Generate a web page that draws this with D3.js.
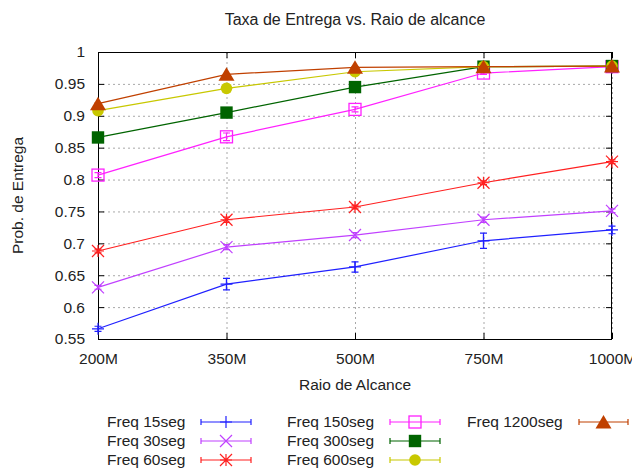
<!DOCTYPE html>
<html>
<head>
<meta charset="utf-8">
<script src="https://cdn.jsdelivr.net/npm/d3@7"></script>
<style>
  body { margin: 0; background: #fff; }
  text { font-family: "Liberation Sans", Arial, sans-serif; fill: #222; }
</style>
</head>
<body>
<svg id="chart"></svg>
<script>
// Data
const categories = ["200M", "350M", "500M", "750M", "1000M"];
const yTicks = [0.55, 0.6, 0.65, 0.7, 0.75, 0.8, 0.85, 0.9, 0.95, 1];

const freq15 = [0.566, 0.636, 0.663, 0.704, 0.721];
const freq30 = [0.631, 0.694, 0.713, 0.737, 0.751];
const freq60 = [0.688, 0.737, 0.757, 0.795, 0.828];
const freq150 = [0.807, 0.867, 0.910, 0.967, 0.977];
const freq300 = [0.866, 0.905, 0.945, 0.977, 0.978];
const freq600 = [0.908, 0.943, 0.969, 0.977, 0.978];
const freq1200 = [0.919, 0.965, 0.976, 0.977, 0.978];

const err15 = [0.004, 0.009, 0.008, 0.012, 0.006];
const err30 = [0.003, 0.004, 0.004, 0.004, 0.003];
const err60 = [0.003, 0.004, 0.003, 0.003, 0.003];
const err150 = [0.004, 0.006, 0.004, 0.002, 0.001];
const err300 = [0.002, 0.002, 0.002, 0.001, 0.001];
const err600 = [0.002, 0.002, 0.001, 0.001, 0.001];
const err1200 = [0.001, 0.001, 0.001, 0.001, 0.001];

const seriesNames = ["Freq 15seg", "Freq 30seg", "Freq 60seg", "Freq 150seg",
                     "Freq 300seg", "Freq 600seg", "Freq 1200seg"];

const series = [
  { name: seriesNames[0], values: freq15, errs: err15, color: "#2020ff", marker: "plus" },
  { name: seriesNames[1], values: freq30, errs: err30, color: "#c040ff", marker: "cross" },
  { name: seriesNames[2], values: freq60, errs: err60, color: "#ff2020", marker: "star" },
  { name: seriesNames[3], values: freq150, errs: err150, color: "#ff20ff", marker: "openSquare" },
  { name: seriesNames[4], values: freq300, errs: err300, color: "#006400", marker: "square" },
  { name: seriesNames[5], values: freq600, errs: err600, color: "#c8c800", marker: "circle" },
  { name: seriesNames[6], values: freq1200, errs: err1200, color: "#c04000", marker: "triangle" }
];

const width = 632, height = 469;
const plot = { left: 98, right: 612, top: 52, bottom: 339 };

const svg = d3.select("#chart")
  .attr("width", width)
  .attr("height", height)
  .attr("viewBox", `0 0 ${width} ${height}`);

const x = d3.scalePoint().domain(categories).range([plot.left, plot.right]);
const y = d3.scaleLinear().domain([0.55, 1]).range([plot.bottom, plot.top]);

const fmt = (d) => String(+d.toFixed(2));

// Grid (dotted)
const grid = svg.append("g").attr("class", "grid");
grid.append("g")
  .attr("transform", `translate(${plot.left},0)`)
  .call(d3.axisLeft(y).tickValues(yTicks).tickSize(-(plot.right - plot.left)).tickFormat(""))
  .call((g) => g.select(".domain").remove());
grid.append("g")
  .attr("transform", `translate(0,${plot.bottom})`)
  .call(d3.axisBottom(x).tickSize(-(plot.bottom - plot.top)).tickFormat(""))
  .call((g) => g.select(".domain").remove());
grid.selectAll("line")
  .attr("stroke", "#a8a8a8")
  .attr("stroke-width", 1)
  .attr("stroke-dasharray", "2,3");

// Axes with inward ticks, mirrored on top and right
const tick = 6;
const axisL = svg.append("g")
  .attr("transform", `translate(${plot.left},0)`)
  .call(d3.axisLeft(y).tickValues(yTicks).tickSize(-tick).tickPadding(13).tickFormat(fmt));
const axisR = svg.append("g")
  .attr("transform", `translate(${plot.right},0)`)
  .call(d3.axisRight(y).tickValues(yTicks).tickSize(-tick).tickFormat(""));
const axisB = svg.append("g")
  .attr("transform", `translate(0,${plot.bottom})`)
  .call(d3.axisBottom(x).tickSize(-tick).tickPadding(14));
const axisT = svg.append("g")
  .attr("transform", `translate(0,${plot.top})`)
  .call(d3.axisTop(x).tickSize(-tick).tickFormat(""));

[axisL, axisR, axisB, axisT].forEach((a) => {
  a.select(".domain").remove();
  a.selectAll("line").attr("stroke", "#000");
  a.selectAll("text")
    .style("font-family", "\"Liberation Sans\", Arial, sans-serif")
    .style("font-size", "15.5px")
    .attr("fill", "#222");
});

// Border
svg.append("rect")
  .attr("x", plot.left + 0.5)
  .attr("y", plot.top + 0.5)
  .attr("width", plot.right - plot.left - 1)
  .attr("height", plot.bottom - plot.top)
  .attr("fill", "none")
  .attr("stroke", "#000")
  .attr("stroke-width", 1);

// Marker drawing
function drawMarker(g, type, cx, cy, color) {
  const p = d3.path();
  switch (type) {
    case "plus":
      p.moveTo(cx - 6, cy); p.lineTo(cx + 6, cy);
      p.moveTo(cx, cy - 6); p.lineTo(cx, cy + 6);
      g.append("path").attr("d", p.toString()).attr("stroke", color).attr("stroke-width", 1.2).attr("fill", "none");
      break;
    case "cross":
      p.moveTo(cx - 6, cy - 6); p.lineTo(cx + 6, cy + 6);
      p.moveTo(cx - 6, cy + 6); p.lineTo(cx + 6, cy - 6);
      g.append("path").attr("d", p.toString()).attr("stroke", color).attr("stroke-width", 1.2).attr("fill", "none");
      break;
    case "star":
      p.moveTo(cx - 6, cy); p.lineTo(cx + 6, cy);
      p.moveTo(cx, cy - 6); p.lineTo(cx, cy + 6);
      p.moveTo(cx - 6, cy - 6); p.lineTo(cx + 6, cy + 6);
      p.moveTo(cx - 6, cy + 6); p.lineTo(cx + 6, cy - 6);
      g.append("path").attr("d", p.toString()).attr("stroke", color).attr("stroke-width", 1.2).attr("fill", "none");
      break;
    case "openSquare":
      g.append("rect").attr("x", cx - 6).attr("y", cy - 6).attr("width", 12).attr("height", 12)
        .attr("fill", "none").attr("stroke", color).attr("stroke-width", 1.3);
      break;
    case "square":
      g.append("rect").attr("x", cx - 6.2).attr("y", cy - 6.2).attr("width", 12.4).attr("height", 12.4)
        .attr("fill", color);
      break;
    case "circle":
      g.append("circle").attr("cx", cx).attr("cy", cy).attr("r", 5.8).attr("fill", color);
      break;
    case "triangle":
      p.moveTo(cx, cy - 7); p.lineTo(cx + 8, cy + 6.5); p.lineTo(cx - 8, cy + 6.5); p.closePath();
      g.append("path").attr("d", p.toString()).attr("fill", color);
      break;
  }
}

// Series: line, error bars, points
const line = d3.line().x((d) => x(d.cat)).y((d) => y(d.v));
const cap = 3.5;

series.forEach((s) => {
  const pts = categories.map((c, i) => ({ cat: c, v: s.values[i], e: s.errs[i] }));
  const g = svg.append("g").attr("class", "series");
  g.append("path")
    .attr("d", line(pts))
    .attr("fill", "none")
    .attr("stroke", s.color)
    .attr("stroke-width", 1.2);
  pts.forEach((d) => {
    const cx = x(d.cat), y1 = y(d.v + d.e), y2 = y(d.v - d.e);
    const p = d3.path();
    p.moveTo(cx, y1); p.lineTo(cx, y2);
    p.moveTo(cx - cap, y1); p.lineTo(cx + cap, y1);
    p.moveTo(cx - cap, y2); p.lineTo(cx + cap, y2);
    g.append("path").attr("d", p.toString()).attr("stroke", s.color).attr("stroke-width", 1.2).attr("fill", "none");
  });
  pts.forEach((d) => drawMarker(g, s.marker, x(d.cat), y(d.v), s.color));
});

// Titles
svg.append("text")
  .attr("x", (plot.left + plot.right) / 2)
  .attr("y", 25)
  .attr("text-anchor", "middle")
  .style("font-size", "16px")
  .text("Taxa de Entrega vs. Raio de alcance");

svg.append("text")
  .attr("x", (plot.left + plot.right) / 2)
  .attr("y", 390)
  .attr("text-anchor", "middle")
  .style("font-size", "15.5px")
  .text("Raio de Alcance");

svg.append("text")
  .attr("transform", `translate(23,${(plot.top + plot.bottom) / 2}) rotate(-90)`)
  .attr("text-anchor", "middle")
  .style("font-size", "15.5px")
  .text("Prob. de Entrega");

// Legend: three columns of up to three rows
const legendCols = [
  { textX: 107, x1: 201, x2: 251 },
  { textX: 287, x1: 390, x2: 440 },
  { textX: 467, x1: 579, x2: 628 }
];
const legendRows = [422, 441, 460];

series.forEach((s, i) => {
  const col = legendCols[Math.floor(i / 3)];
  const ry = legendRows[i % 3];
  const g = svg.append("g").attr("class", "legend-item");
  g.append("text")
    .attr("x", col.textX)
    .attr("y", ry)
    .attr("dy", "0.35em")
    .style("font-size", "15.5px")
    .text(s.name);
  const p = d3.path();
  p.moveTo(col.x1, ry); p.lineTo(col.x2, ry);
  p.moveTo(col.x1, ry - 3); p.lineTo(col.x1, ry + 3);
  p.moveTo(col.x2, ry - 3); p.lineTo(col.x2, ry + 3);
  g.append("path").attr("d", p.toString()).attr("stroke", s.color).attr("stroke-width", 1.2).attr("fill", "none");
  drawMarker(g, s.marker, (col.x1 + col.x2) / 2, ry, s.color);
});
</script>
</body>
</html>
